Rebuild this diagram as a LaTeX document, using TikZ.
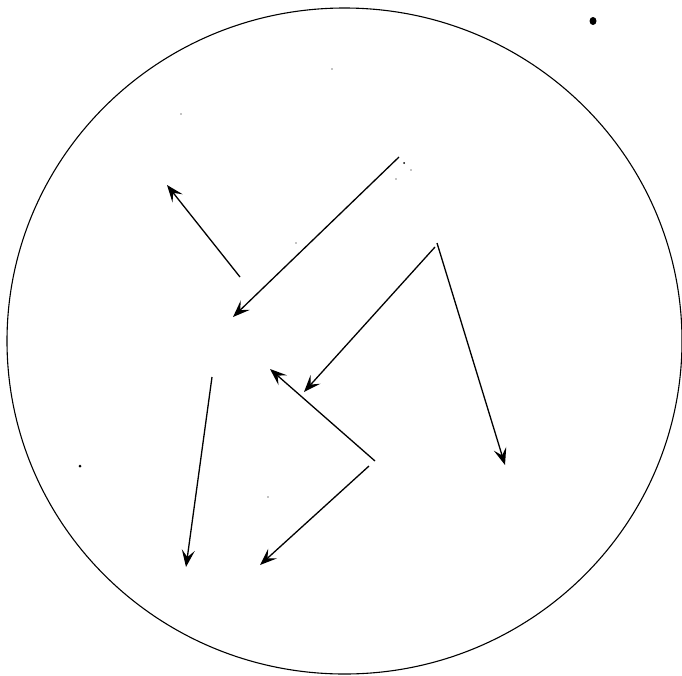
\documentclass[tikz,border=0pt]{standalone}
\usetikzlibrary{arrows.meta}
\begin{document}
\begin{tikzpicture}[x=1pt,y=-1pt,
  vec/.style={line width=1.3pt,-{Stealth[length=17pt,width=13pt,inset=7pt]}},
  rim/.style={line width=1.1pt},
  speck/.style={fill=black,draw=none}]
\useasboundingbox[fill=white] (0,0) rectangle (682,675);
\draw[rim] (344.5,341) ellipse [x radius=337.5pt, y radius=333pt];
% end points
\coordinate (a1) at (240,277); \coordinate (b1) at (167,185);
\coordinate (a2) at (399,157); \coordinate (b2) at (233,317);
\coordinate (a3) at (435,247); \coordinate (b3) at (304,392);
\coordinate (a4) at (437,243); \coordinate (b4) at (505,465);
\coordinate (a5) at (375,461); \coordinate (b5) at (270,369);
\coordinate (a6) at (369,466); \coordinate (b6) at (260,565);
\coordinate (a7) at (212,377); \coordinate (b7) at (186,567);
\draw[vec] (a1) -- (b1);
\draw[vec] (a2) -- (b2);
\draw[vec] (a3) -- (b3);
\draw[vec] (a4) -- (b4);
\draw[vec] (a5) -- (b5);
\draw[vec] (a6) -- (b6);
\draw[vec] (a7) -- (b7);
% specks
\fill[speck] (593,21) ellipse [x radius=3.5pt, y radius=4pt];
\fill[speck] (80,466) circle (1.5pt);
\fill[speck] (404,163) circle (1pt);
\fill[speck] (411,170) circle (0.7pt);
\fill[speck] (396,179) circle (0.6pt);
\fill[speck] (332,69) circle (0.6pt);
\fill[speck] (181,114) circle (0.6pt);
\fill[speck] (296,243) circle (0.6pt);
\fill[speck] (268,497) circle (0.6pt);
\end{tikzpicture}
\end{document}
